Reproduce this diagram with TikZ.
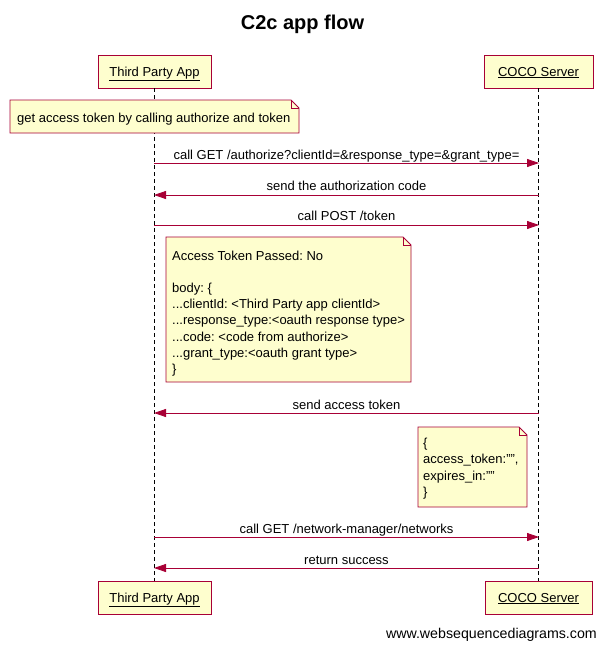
\documentclass[tikz,border=0pt]{standalone}
\usepackage{fontspec}
\setmainfont{Liberation Sans}
\usetikzlibrary{arrows.meta}
\definecolor{wsdred}{HTML}{A80036}
\definecolor{wsdfill}{HTML}{FEFECE}
\frenchspacing
\tikzset{
  actor/.style={draw=wsdred, fill=wsdfill, line width=0.9pt, minimum height=33pt, inner sep=0pt, text height=10pt, text depth=1pt, font=\fontsize{13}{16}\selectfont},
  lifeline/.style={draw=black, line width=0.8pt, dash pattern=on 4pt off 3pt},
  msg/.style={draw=wsdred, line width=0.8pt, -{Triangle[length=12pt,width=8pt]}},
  msglabel/.style={anchor=base, inner sep=0pt, font=\fontsize{13}{16}\selectfont},
  notebox/.style={draw=wsdred, fill=wsdfill, line width=0.9pt},
  notetext/.style={anchor=north west, inner sep=0pt, align=left, font=\fontsize{13}{16.2}\selectfont},
}
\begin{document}
\begin{tikzpicture}[x=1pt,y=-1pt]
\useasboundingbox (0,0) rectangle (605,648);
\fill[white] (0,0) rectangle (605,648);
% title
\node[anchor=base, inner sep=0pt, font=\fontsize{20}{24}\bfseries] (title) at (302.5,29) {C2c app flow};
% actors
\node[actor, minimum width=113pt] (tpa) at (154.5,71.5) {\underline{Third Party App}};
\node[actor, minimum width=109pt] (coco) at (538.5,71.5) {\underline{COCO Server}};
\node[actor, minimum width=113pt] (tpab) at (154.5,597.5) {\underline{Third Party App}};
\node[actor, minimum width=107pt] (cocob) at (538.5,597.5) {\underline{COCO Server}};
% lifelines
\draw[lifeline] (tpa.south) -- (tpab.north);
\draw[lifeline] (coco.south) -- (cocob.north);
% note 1
\path[notebox] (10,100) -- (291,100) -- (299,108) -- (299,133) -- (10,133) -- cycle;
\draw[wsdred, line width=0.9pt] (291,100) -- (291,108) -- (299,108);
\node[anchor=base west, inner sep=0pt, font=\fontsize{13}{16}\selectfont] (n1) at (17,122) {get access token by calling authorize and token};
% messages
\coordinate (a1) at (154,163); \coordinate (b1) at (539,163);
\draw[msg] (a1) -- (b1);
\node[msglabel] (l1) at (346.5,159.5) {call GET /authorize?clientId=\&response\_type=\&grant\_type=};
\coordinate (a2) at (154,195); \coordinate (b2) at (539,195);
\draw[msg] (b2) -- (a2);
\node[msglabel] (l2) at (346.5,190) {send the authorization code};
\coordinate (a3) at (154,225); \coordinate (b3) at (539,225);
\draw[msg] (a3) -- (b3);
\node[msglabel] (l3) at (346.5,220.5) {call POST /token};
% note 2
\path[notebox] (166,237) -- (403,237) -- (411,245) -- (411,382) -- (166,382) -- cycle;
\draw[wsdred, line width=0.9pt] (403,237) -- (403,245) -- (411,245);
\node[notetext] (n2) at (172,250.5) {Access Token Passed: No\\[16.2pt]
body: \{\\
...clientId: <Third Party app clientId>\\
...response\_type:<oauth response type>\\
...code: <code from authorize>\\
...grant\_type:<oauth grant type>\\
\}};
% message 4
\coordinate (a4) at (154,413); \coordinate (b4) at (539,413);
\draw[msg] (b4) -- (a4);
\node[msglabel] (l4) at (346.5,409.5) {send access token};
% note 3
\path[notebox] (418,427) -- (519,427) -- (527,435) -- (527,507) -- (418,507) -- cycle;
\draw[wsdred, line width=0.9pt] (519,427) -- (519,435) -- (527,435);
\node[notetext] (n3) at (423,438) {\{\\
access\_token:"",\\
expires\_in:""\\
\}};
% messages 5,6
\coordinate (a5) at (154,537); \coordinate (b5) at (539,537);
\draw[msg] (a5) -- (b5);
\node[msglabel] (l5) at (346.5,533) {call GET /network-manager/networks};
\coordinate (a6) at (154,568); \coordinate (b6) at (539,568);
\draw[msg] (b6) -- (a6);
\node[msglabel] (l6) at (346.5,564) {return success};
% watermark
\node[anchor=base east, inner sep=0pt, font=\fontsize{14.2}{17}\selectfont] (wm) at (597,638) {www.websequencediagrams.com};
\end{tikzpicture}
\end{document}
